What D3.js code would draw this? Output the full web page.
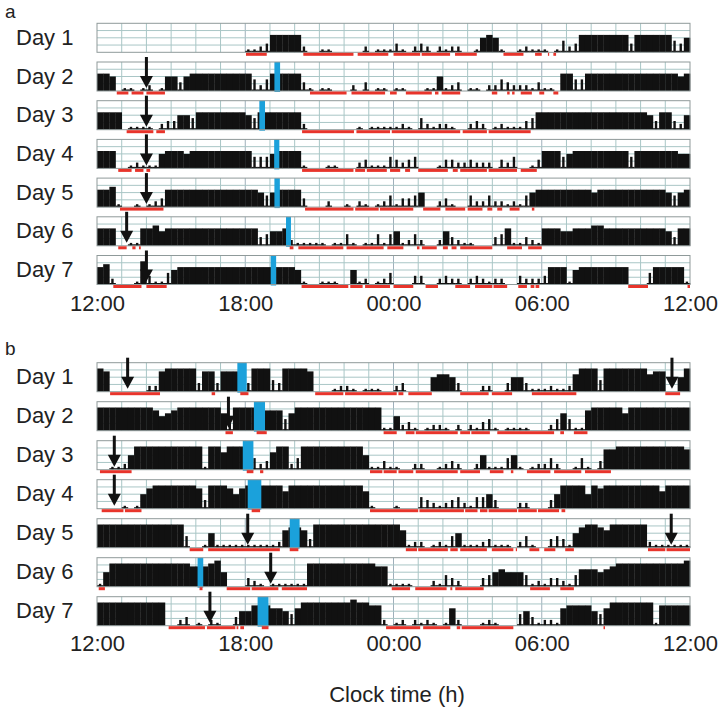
<!DOCTYPE html>
<html>
<head>
<meta charset="utf-8">
<script src="https://cdn.jsdelivr.net/npm/d3@7"></script>
<style>
  body { margin: 0; background: #fff; }
  text { font-family: "Liberation Sans", Arial, sans-serif; fill: #222; }
</style>
</head>
<body>
<script>
// activity per 15 min bin, 12:00 -> 12:00 next day, level 0-9 (one group of 4 = one hour)
const actA = [
  "0000 0000 0000 0000 0000 0000 1123 6666 6200 1100 0002 0111 3102 3202 1220 0156 5100 1211 1014 2366 6666 6636 6666 6435",
  "6650 1101 2015 5356 6666 6666 6424 6666 6310 1100 0203 0110 1100 0115 1230 1102 2432 2213 1106 6446 6666 6666 6666 6656",
  "6666 0111 1023 3554 6666 6666 5466 6666 6200 0000 0010 1111 1210 4212 2100 2320 1211 1346 6666 6666 6666 6666 6536 6325",
  "6660 0121 1156 6656 6666 6666 6444 5666 6100 0110 0023 1114 3234 0001 3322 3222 0324 0013 6664 5666 6666 6646 6666 6655",
  "6671 0010 1236 6666 6666 6666 6654 5666 6300 0200 1021 0124 1334 5002 3100 4224 2212 1456 6666 6666 5666 6666 6666 5456",
  "6660 0116 6756 6666 6666 6666 6634 5562 1111 1011 4101 1414 5124 2002 5321 1000 3461 1321 6665 5666 7766 6666 6666 5366",
  "6720 0018 3114 5666 6666 6666 6666 6666 5100 1110 0512 0124 0003 3002 3220 2321 2200 3222 3666 1566 6666 6600 0466 6661"
];
const actB = [
  "8700 0000 2278 8888 3773 7777 3888 4388 8870 0012 2101 1100 2300 0056 6530 0022 0035 5311 1211 2688 8488 8888 8677 0058",
  "8888 8888 8756 7888 8888 6388 8887 7746 8888 8888 8888 8811 5231 0122 1020 2134 1011 1100 0246 4117 8888 8688 8888 8888",
  "0011 2588 8888 8888 8188 6888 8423 6882 4888 8888 8885 1131 1002 2001 2320 0251 1145 1012 2420 0141 0377 8888 8888 8887",
  "0000 1015 7888 8888 7388 8757 8888 8868 8888 8888 8886 1000 1000 4321 2342 1445 3000 2200 0358 8885 8788 8888 8886 8888",
  "8888 8888 8888 8840 0151 1111 1111 1267 7638 8888 8888 8888 8612 2012 1451 1123 1110 2410 0343 1578 8768 8888 8211 1111",
  "1588 8888 8888 8887 7789 5000 3210 1111 1188 8888 8888 8771 1110 0021 4320 0034 5655 5412 1332 1466 6567 8888 8888 8889",
  "8888 8888 8880 0230 1021 0035 5777 6654 6888 8888 8988 7720 1202 1210 1620 0012 1000 4531 2216 7777 5468 8888 8817 7777"
];

// sleep periods (red), hours after 12:00
const sleepA = [
  [[6.03,6.87],[8.35,10.38],[10.55,11.79],[12.0,13.08],[13.14,14.29],[14.49,15.37],[16.45,17.26],[17.73,18.0],[18.25,18.3],[18.47,18.58]],
  [[0.8,1.27],[1.4,1.88],[2.0,2.75],[8.62,10.1],[10.3,11.66],[11.86,12.13],[12.5,13.55],[13.68,13.82],[13.95,14.7],[15.98,16.2],[16.6,16.7],[16.8,16.9],[17.15,17.6],[17.9,18.1],[18.47,18.67]],
  [[1.2,2.28],[2.4,2.75],[8.3,10.4],[10.5,11.86],[11.93,14.7],[14.8,15.78],[15.85,17.55]],
  [[0.86,1.4],[1.54,1.88],[2.0,2.15],[8.3,10.38],[10.45,10.85],[10.92,11.73],[11.86,12.27],[12.47,12.67],[13.0,14.2],[14.4,14.6],[14.7,15.78],[15.85,17.0],[17.15,17.8]],
  [[0.93,2.69],[8.42,10.38],[10.45,11.4],[11.45,12.8],[13.2,13.9],[14.1,14.9],[15.0,15.6],[15.8,16.0],[16.2,16.4],[16.7,17.1],[17.6,17.7]],
  [[0.86,1.2],[1.43,1.56],[1.7,1.77],[7.8,7.95],[8.15,9.97],[10.1,11.6],[11.75,12.4],[12.95,13.05],[13.15,13.75],[14.0,14.2],[14.35,14.55],[14.7,16.0],[16.6,17.2],[17.45,18.0]],
  [[0.66,1.8],[2.0,2.82],[8.28,10.17],[10.25,10.75],[10.85,11.86],[12.0,12.8],[13.3,13.8],[14.5,15.1],[15.3,16.0],[16.05,16.6],[17.05,17.4],[17.55,17.7],[17.75,17.9],[21.5,22.3],[23.9,24.0]]
];
const sleepB = [
  [[0.53,2.55],[4.64,4.78],[5.8,6.13],[8.83,9.97],[10.04,12.13],[12.2,12.4],[12.6,13.55],[14.7,15.85],[15.98,16.8],[17.6,19.4],[23.0,23.6]],
  [[5.2,5.5],[6.46,6.87],[11.6,12.13],[12.5,12.85],[12.9,14.6],[14.7,15.1],[15.15,15.9],[16.2,18.5],[18.75,18.9],[19.3,19.85]],
  [[0.12,1.4],[6.06,6.33],[6.6,6.73],[11.05,11.55],[11.6,12.13],[12.2,12.8],[12.9,14.6],[14.7,15.5],[15.9,16.45],[16.75,16.85],[17.4,18.35],[18.5,19.6],[19.75,20.8]],
  [[0.19,1.07],[1.13,1.8],[6.26,6.6],[11.05,13.0],[13.05,14.85],[14.9,15.4],[15.5,15.8],[15.85,17.0],[17.05,17.8],[17.85,18.7],[18.8,18.95]],
  [[3.75,4.3],[4.5,7.4],[7.8,8.15],[12.5,12.95],[13.0,14.2],[14.3,14.6],[14.7,15.78],[15.98,16.85],[16.95,17.0],[17.5,17.9],[18.1,18.55],[18.95,19.3],[22.3,23.0],[23.05,24.0]],
  [[0.07,0.32],[4.15,4.27],[5.25,6.2],[6.26,7.34],[7.48,8.5],[11.93,12.67],[12.88,14.15],[14.3,14.38],[14.5,15.65],[17.53,18.33],[18.75,19.3]],
  [[2.9,4.37],[4.45,5.6],[5.65,5.72],[5.8,5.95],[6.67,6.94],[11.7,13.08],[13.2,14.3],[14.56,14.7],[14.76,16.85],[20.5,20.56]]
];

// light pulses (blue) and arrows
const blueA = [null, [7.18,7.41], [6.57,6.8], [7.17,7.38], [7.18,7.4], [7.65,7.85], [7.03,7.25]];
const blueB = [[5.68,6.06], [6.35,6.8], [5.9,6.33], [6.1,6.65], [7.8,8.2], [4.07,4.3], [6.5,6.94]];
const arrowA = [[], [2.0], [2.0], [2.0], [2.0], [1.2], [2.0]];
const arrowB = [[1.24,23.27], [5.32], [0.7], [0.7], [6.1,23.24], [7.03], [4.57]];

const dayLabels = ["Day 1","Day 2","Day 3","Day 4","Day 5","Day 6","Day 7"];
const tickHours = [0, 6, 12, 18, 24];
const tickLabels = ["12:00","18:00","00:00","06:00","12:00"];

var svg = d3.select("body").append("svg")
    .attr("width", 721)
    .attr("height", 713);

var x = d3.scaleLinear().domain([0, 24]).range([97, 690]);
var rowH = 29;

function parseAct(s) {
    return s.replace(/ /g, "").split("").map(function(c) { return +c; });
}

//draws one panel of 7 days
function panel(letter, letterY, firstTop, rowGap, act, sleep, blue, arrows, tickY) {
    var rowTop = d3.scaleLinear().domain([0, 6]).range([firstTop, firstTop + 6 * rowGap]);

    svg.append("text")
        .attr("x", 5).attr("y", letterY)
        .style("font-size", "19px")
        .text(letter);

    for (var i = 0; i < 7; i++) {
        var top = rowTop(i), bot = top + rowH;
        var g = svg.append("g");
        var yv = d3.scaleLinear().domain([0, 10]).range([bot, top]);

        g.append("text")
            .attr("x", 16).attr("y", top + 21.5)
            .style("font-size", "22px")
            .text(dayLabels[i]);

        //grid
        g.selectAll(".vg").data(d3.range(1, 24)).enter().append("line")
            .attr("x1", d => x(d)).attr("x2", d => x(d))
            .attr("y1", top).attr("y2", bot)
            .attr("stroke", d => d % 6 == 0 ? "#9fb0bb" : "#a9c6c6").attr("stroke-width", 1);
        g.selectAll(".hg").data([1, 2, 3]).enter().append("line")
            .attr("x1", x(0)).attr("x2", x(24))
            .attr("y1", d => top + d * rowH / 4).attr("y2", d => top + d * rowH / 4)
            .attr("stroke", "#a9c6c6").attr("stroke-width", 1);

        //activity: high bins drawn full width, low bins as thin spikes on a thin base
        var vals = parseAct(act[i]);
        var bw = x(0.25) - x(0);
        g.selectAll(".bar").data(vals).enter().append("rect")
            .attr("x", (d, j) => d >= 5 ? x(j / 4) : x(j / 4) + bw / 2 - 1.2)
            .attr("width", d => d >= 5 ? bw + 0.3 : 2.4)
            .attr("y", d => yv(d))
            .attr("height", d => bot - yv(d))
            .attr("fill", "#111");
        g.selectAll(".base").data(vals).enter().append("rect")
            .attr("x", (d, j) => x(j / 4))
            .attr("width", bw + 0.3)
            .attr("y", d => d > 0 && d < 5 ? bot - 1.5 : bot)
            .attr("height", d => d > 0 && d < 5 ? 1.5 : 0)
            .attr("fill", "#111");

        //light
        if (blue[i]) {
            g.append("rect")
                .attr("x", x(blue[i][0])).attr("width", x(blue[i][1]) - x(blue[i][0]))
                .attr("y", top).attr("height", rowH + 1)
                .attr("fill", "#1ba1db");
        }

        g.append("rect")
            .attr("x", x(0)).attr("y", top)
            .attr("width", x(24) - x(0)).attr("height", rowH)
            .attr("fill", "none").attr("stroke", "#8f9a9a").attr("stroke-width", 1);

        //sleep
        g.selectAll(".sl").data(sleep[i]).enter().append("rect")
            .attr("x", d => x(d[0])).attr("width", d => x(d[1]) - x(d[0]))
            .attr("y", bot + 0.5).attr("height", 3)
            .attr("fill", "#e8342b");

        //arrows
        arrows[i].forEach(function(h) {
            var ax = x(h), a0 = top - 5, a1 = bot - 3;
            g.append("rect")
                .attr("x", ax - 1.5).attr("y", a0).attr("width", 3).attr("height", a1 - a0 - 10)
                .attr("fill", "#111");
            g.append("path")
                .attr("d", "M" + (ax - 6.5) + "," + (a1 - 12) + "L" + (ax + 6.5) + "," + (a1 - 12) + "L" + ax + "," + a1 + "Z")
                .attr("fill", "#111");
        });
    }

    var axis = d3.axisBottom(x).tickValues(tickHours)
        .tickFormat((d, k) => tickLabels[k]).tickSize(0).tickPadding(0);
    var ag = svg.append("g").attr("transform", "translate(0," + tickY + ")").call(axis);
    ag.select(".domain").remove();
    ag.selectAll("text")
        .style("font-size", "22px")
        .attr("fill", "#222")
        .attr("font-family", "Liberation Sans, Arial, sans-serif")
        .attr("dy", 0).attr("y", 0);
}

panel("a", 17.5, 23.3, 38.7, actA, sleepA, blueA, arrowA, 311);
panel("b", 355, 362.7, 39, actB, sleepB, blueB, arrowB, 651);

svg.append("text")
    .attr("x", 397).attr("y", 702)
    .attr("text-anchor", "middle")
    .style("font-size", "22px")
    .text("Clock time (h)");
</script>
</body>
</html>
